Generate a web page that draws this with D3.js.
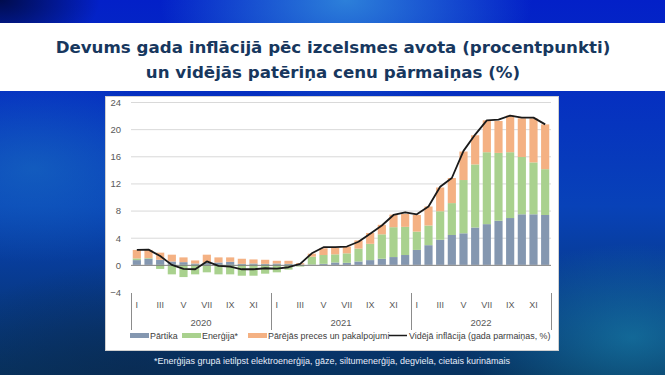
<!DOCTYPE html>
<html><head><meta charset="utf-8">
<script src="https://cdn.jsdelivr.net/npm/d3@7"></script>
<style>html,body{margin:0;padding:0;background:#0838b8;}svg{display:block;}</style>
</head><body>
<svg id="c" width="665" height="375"></svg>
<script>
// ---------- DATA ----------
const years = ["2020", "2021", "2022"];
const monthLabels = ["I","II","III","IV","V","VI","VII","VIII","IX","X","XI","XII"];
const shownMonthLabels = ["I","III","V","VII","IX","XI"];
const seriesNames = ["Pārtika", "Enerģija*", "Pārējās preces un pakalpojumi"];
const lineName = "Vidējā inflācija (gada parmaiņas, %)";
const food = [0.7,0.9,0.75,0.5,0.4,0.2,0.3,0.35,0.45,0.15,0.2,0.15,
              0.2,0.15,0.05,0.05,0.15,0.35,0.3,0.5,0.7,0.9,1.15,1.45,
              2.2,2.9,3.7,4.4,4.65,5.5,6.0,6.5,6.9,7.45,7.45,7.35];
const energy = [0.25,0.1,-0.6,-1.4,-1.8,-1.4,-1.1,-1.4,-1.4,-1.6,-1.6,-1.3,
              -1.1,-0.7,-0.25,1.15,1.3,1.2,1.4,1.9,2.4,3.6,4.4,4.15,
              2.7,2.9,4.2,4.7,7.85,9.3,10.6,10.0,9.7,8.45,7.65,6.75];
const other = [1.25,1.2,1.05,1.0,0.7,0.45,1.2,0.75,0.65,0.75,0.6,0.6,
              0.4,0.45,0.2,0.45,1.0,0.95,1.0,1.2,1.6,1.4,1.85,1.9,
              2.45,2.8,3.5,3.7,4.2,4.3,4.7,4.7,5.4,5.7,6.5,6.6];
const inflation = [2.2,2.25,1.3,0.0,-0.6,-0.65,0.5,-0.15,-0.25,-0.65,-0.65,-0.5,
              -0.55,-0.35,0.15,1.7,2.6,2.6,2.7,3.4,4.6,5.8,7.35,7.75,
              7.45,8.6,11.5,12.8,16.8,19.2,21.3,21.4,22.0,21.7,21.7,20.7];
const yTicks = [-4,0,4,8,12,16,20,24];
const colors = ["#8497b0", "#a9d18e", "#f4b183"];

// ---------- SETUP ----------
const svg = d3.select("#c");
const defs = svg.append("defs");

// background
const bg = defs.append("linearGradient").attr("id","bgv").attr("x1",0).attr("y1",0).attr("x2",0).attr("y2",1);
bg.append("stop").attr("offset","0%").attr("stop-color","#0320c8");
bg.append("stop").attr("offset","55%").attr("stop-color","#0842b8");
bg.append("stop").attr("offset","100%").attr("stop-color","#07325e");
svg.append("rect").attr("width",665).attr("height",375).attr("fill","url(#bgv)");
function radial(id, cx, cy, r, col, op){
  const g = defs.append("radialGradient").attr("id",id).attr("cx",cx).attr("cy",cy).attr("r",r);
  g.append("stop").attr("offset","0%").attr("stop-color",col).attr("stop-opacity",op);
  g.append("stop").attr("offset","100%").attr("stop-color",col).attr("stop-opacity",0);
  svg.append("rect").attr("width",665).attr("height",375).attr("fill",`url(#${id})`);
}
radial("r1","52%","0%","28%","#3aa0e0",0.75);
radial("r2","5%","45%","25%","#1a70c0",0.6);
radial("r3","0%","0%","15%","#000a40",0.9);
radial("r4","95%","90%","25%","#1a8ab0",0.6);
radial("r5","20%","100%","30%","#0a2a50",0.7);

// title band
svg.append("rect").attr("x",0).attr("y",23).attr("width",665).attr("height",68).attr("fill","#ffffff");
const titleLines = ["Devums gada inflācijā pēc izcelsmes avota (procentpunkti)", "un vidējās patēriņa cenu pārmaiņas (%)"];
const t1 = svg.append("text").attr("x",333).attr("y",53).attr("text-anchor","middle")
  .attr("font-family","DejaVu Sans").attr("font-weight","bold").attr("font-size",17).attr("fill","#17375e").text(titleLines[0]);
let w1 = t1.node().getComputedTextLength();
const tfs = 17*555/w1;
t1.attr("font-size",tfs);
svg.append("text").attr("x",333).attr("y",78).attr("text-anchor","middle")
  .attr("font-family","DejaVu Sans").attr("font-weight","bold").attr("font-size",tfs).attr("fill","#17375e").text(titleLines[1]);

// chart panel
svg.append("rect").attr("x",105.5).attr("y",96.5).attr("width",453).attr("height",254)
  .attr("fill","#ffffff").attr("stroke","#d0d0d0");

// scales
const idx = d3.range(food.length);
const x = d3.scaleBand().domain(idx).range([131,551]).paddingInner(0.3).paddingOuter(0.15);
const y = d3.scaleLinear().domain([-4,24]).range([292,102]);

const axisFont = "Liberation Sans";
// gridlines
svg.append("g").selectAll("line").data(yTicks.filter(d=>d>-4 && d!==0)).join("line")
  .attr("x1",131).attr("x2",551).attr("y1",d=>y(d)+0.5).attr("y2",d=>y(d)+0.5)
  .attr("stroke","#d9d9d9").attr("stroke-width",1);

// y axis labels
const yAxis = d3.axisLeft(y).tickValues(yTicks).tickSize(0).tickPadding(0);
const ya = svg.append("g").attr("transform","translate(121,0)").call(yAxis);
ya.select(".domain").remove();
ya.selectAll("text").attr("font-family",axisFont).attr("font-size",9.5).attr("fill","#595959").attr("dy","0.35em");

// stacked bars
const rows = idx.map(i=>({i, a:food[i], b:energy[i], c:other[i]}));
const stack = d3.stack().keys(["a","b","c"]).offset(d3.stackOffsetDiverging);
const layers = stack(rows);
svg.append("g").selectAll("g").data(layers).join("g").attr("fill",(d,k)=>colors[k])
  .selectAll("rect").data(d=>d).join("rect")
  .attr("x",d=>x(d.data.i)).attr("width",x.bandwidth())
  .attr("y",d=>y(Math.max(d[0],d[1]))).attr("height",d=>Math.abs(y(d[0])-y(d[1])));

// zero line
svg.append("line").attr("x1",131).attr("x2",551).attr("y1",y(0)+0.5).attr("y2",y(0)+0.5)
  .attr("stroke","#7f7f7f").attr("stroke-width",1);

// inflation line
const line = d3.line().x((d,i)=>x(i)+x.bandwidth()/2).y(d=>y(d)).curve(d3.curveLinear);
svg.append("path").datum(inflation).attr("d",line).attr("fill","none")
  .attr("stroke","#1a1a1a").attr("stroke-width",1.8).attr("stroke-linejoin","round");

// category axis (bottom, below -4)
const xg = svg.append("g");
idx.forEach(i=>{
  const m = monthLabels[i%12];
  if(shownMonthLabels.includes(m)){
    xg.append("text").attr("x",x(i)+x.bandwidth()/2).attr("y",305).attr("dy","0.35em")
      .attr("text-anchor","middle").attr("font-family",axisFont).attr("font-size",9).attr("fill","#595959").text(m);
  }
});
const yearBand = d3.scaleBand().domain(years).range([131,551]);
years.forEach(yr=>{
  xg.append("text").attr("x",yearBand(yr)+yearBand.bandwidth()/2).attr("y",323).attr("dy","0.35em")
    .attr("text-anchor","middle").attr("font-family",axisFont).attr("font-size",9.5).attr("fill","#595959").text(yr);
});
const seps = years.map(yr=>yearBand(yr)).concat([551]);
xg.selectAll("line").data(seps).join("line")
  .attr("x1",d=>Math.round(d)+0.5).attr("x2",d=>Math.round(d)+0.5).attr("y1",293).attr("y2",330)
  .attr("stroke","#8c8c8c").attr("stroke-width",1);

// legend
const lg = svg.append("g").attr("font-family",axisFont).attr("font-size",8.9).attr("fill","#404040");
const legendItems = [
  {t:seriesNames[0], c:colors[0], type:"rect", x:130},
  {t:seriesNames[1], c:colors[1], type:"rect", x:182},
  {t:seriesNames[2], c:colors[2], type:"rect", x:248},
  {t:lineName, c:"#1a1a1a", type:"line", x:389}
];
legendItems.forEach(it=>{
  if(it.type==="rect") lg.append("rect").attr("x",it.x).attr("y",333).attr("width",19).attr("height",5).attr("fill",it.c);
  else lg.append("line").attr("x1",it.x).attr("x2",it.x+18).attr("y1",335.5).attr("y2",335.5).attr("stroke",it.c).attr("stroke-width",1.5);
  lg.append("text").attr("x",it.x+20).attr("y",335.5).attr("dy","0.35em").text(it.t);
});

// footnote
svg.append("text").attr("x",332).attr("y",361).attr("dy","0.35em").attr("text-anchor","middle")
  .attr("font-family","Liberation Sans").attr("font-size",9).attr("fill","#e6eefa")
  .text("*Enerģijas grupā ietilpst elektroenerģija, gāze, siltumenerģija, degviela, cietais kurināmais");
</script>
</body></html>
